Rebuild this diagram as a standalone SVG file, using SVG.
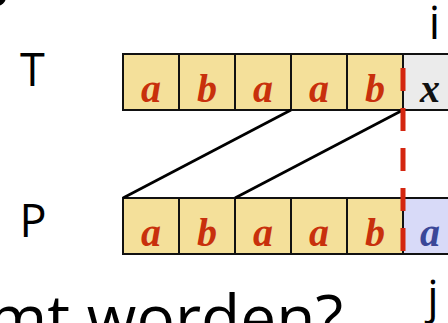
<svg xmlns="http://www.w3.org/2000/svg" width="448" height="323" viewBox="0 0 448 323">
<style>
.lbl{font-family:"Open Sans","Liberation Sans",sans-serif;font-size:45px;fill:#000}
.cell{stroke:#111;stroke-width:2}
.y{fill:#F4E09A}
.g{fill:#EBEBEB}
.b{fill:#D8DAF8}
.ch{font-family:"Liberation Serif",serif;font-style:italic;font-weight:bold;font-size:40px;text-anchor:middle}
.r{fill:#C8300C}
.k{fill:#111}
.bl{fill:#3A4798}
.conn{stroke:#000;stroke-width:2.7;fill:none}
</style>
<rect width="448" height="323" fill="#fff"/>
<circle cx="-3" cy="-3" r="9" fill="#000"/>
<g id="label-T"><text class="lbl" x="32.5" y="85.5" text-anchor="middle">T</text></g>
<g id="label-P"><text class="lbl" x="33" y="237" text-anchor="middle">P</text></g>
<g id="label-i"><text class="lbl" x="434.5" y="39" text-anchor="middle">i</text></g>
<g id="label-j"><text class="lbl" x="433" y="313" text-anchor="middle">j</text></g>
<g id="row-T">
<rect class="cell y" x="123" y="54" width="56" height="56"/>
<rect class="cell y" x="179" y="54" width="56" height="56"/>
<rect class="cell y" x="235" y="54" width="56" height="56"/>
<rect class="cell y" x="291" y="54" width="56" height="56"/>
<rect class="cell y" x="347" y="54" width="56" height="56"/>
<rect class="cell g" x="403" y="54" width="70" height="56"/>
<text class="ch r" x="151" y="102">a</text>
<text class="ch r" x="207" y="102">b</text>
<text class="ch r" x="263" y="102">a</text>
<text class="ch r" x="319" y="102">a</text>
<text class="ch r" x="375" y="102">b</text>
<text class="ch k" x="430" y="102">x</text>
</g>
<g id="row-P">
<rect class="cell y" x="123" y="198" width="56" height="56"/>
<rect class="cell y" x="179" y="198" width="56" height="56"/>
<rect class="cell y" x="235" y="198" width="56" height="56"/>
<rect class="cell y" x="291" y="198" width="56" height="56"/>
<rect class="cell y" x="347" y="198" width="56" height="56"/>
<rect class="cell b" x="403" y="198" width="70" height="56"/>
<text class="ch r" x="151" y="246">a</text>
<text class="ch r" x="207" y="246">b</text>
<text class="ch r" x="263" y="246">a</text>
<text class="ch r" x="319" y="246">a</text>
<text class="ch r" x="375" y="246">b</text>
<text class="ch bl" x="430" y="246">a</text>
</g>
<g id="connectors">
<line class="conn" x1="291" y1="110" x2="123" y2="198"/>
<line class="conn" x1="403" y1="110" x2="235" y2="198"/>
<line x1="403" y1="68" x2="403" y2="252" stroke="#D42610" stroke-width="5" stroke-dasharray="23 17"/>
</g>
<g id="caption"><text class="lbl" x="343" y="341" text-anchor="end" style="font-size:64px">mt worden?</text></g>
</svg>
